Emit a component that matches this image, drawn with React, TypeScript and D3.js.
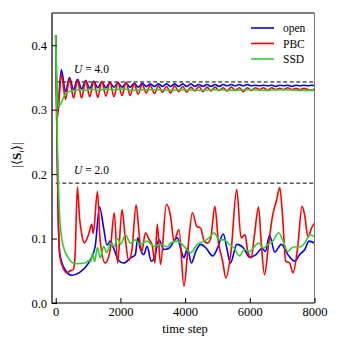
import { useEffect, useRef } from 'react'
import * as d3 from 'd3'

// tick labels and reference levels
const xTicks = [0, 2000, 4000, 6000, 8000]
const yTicks = [0, 0.1, 0.2, 0.3, 0.4]
const refLevels = [0.343, 0.186]
const refLabels = ['4.0', '2.0']

const seriesNames = ['open', 'PBC', 'SSD']
const seriesColors = ['#0000ff', '#ff0000', '#33cc33']

// U = 4.0 runs
const u4Time = [
  0, 50, 175, 300, 425, 550, 675, 800, 925, 1050, 1175, 1300, 1425, 1550, 1675, 1800, 1925, 2050,
  2175, 2300, 2425, 2550, 2675, 2800, 2925, 3050, 3175, 3300, 3425, 3550, 3675, 3800, 3925, 4050,
  4175, 4300, 4425, 4550, 4675, 4800, 4925, 5050, 5175, 5300, 5425, 5550, 5675, 5800, 5925, 6050,
  6175, 6300, 6425, 6550, 6675, 6800, 6925, 7050, 7175, 7300, 7425, 7550, 7675, 7800, 7925, 8000,
]
const openU4 = [
  0.416, 0.3, 0.362, 0.328, 0.35, 0.331, 0.347, 0.332, 0.345, 0.333,
  0.344, 0.334, 0.343, 0.334, 0.342, 0.335, 0.342, 0.335, 0.341, 0.335,
  0.341, 0.335, 0.341, 0.336, 0.34, 0.336, 0.34, 0.336, 0.34, 0.336,
  0.34, 0.336, 0.34, 0.336, 0.34, 0.336, 0.339, 0.336, 0.339, 0.336,
  0.339, 0.336, 0.339, 0.337, 0.339, 0.337, 0.339, 0.337, 0.339, 0.337,
  0.338, 0.337, 0.338, 0.337, 0.338, 0.336, 0.338, 0.337, 0.338, 0.336,
  0.338, 0.337, 0.338, 0.337, 0.338, 0.337,
]
const pbcU4 = [
  0.416, 0.287, 0.355, 0.316, 0.348, 0.318, 0.346, 0.318, 0.345, 0.32,
  0.344, 0.319, 0.344, 0.321, 0.343, 0.32, 0.342, 0.322, 0.343, 0.322,
  0.34, 0.324, 0.339, 0.326, 0.338, 0.325, 0.337, 0.327, 0.336, 0.326,
  0.337, 0.328, 0.336, 0.327, 0.335, 0.329, 0.336, 0.328, 0.335, 0.329,
  0.335, 0.33, 0.334, 0.329, 0.335, 0.33, 0.334, 0.328, 0.334, 0.33,
  0.334, 0.331, 0.334, 0.33, 0.334, 0.331, 0.333, 0.331, 0.334, 0.331,
  0.333, 0.331, 0.333, 0.331, 0.33, 0.333,
]
const ssdU4Time = [
  0, 40, 100, 160, 250, 350, 500, 700, 900, 1100, 1300, 1500, 1800, 2100, 2400, 2800, 3200, 3600,
  4000, 4500, 5000, 5500, 6000, 6500, 7000, 7500, 8000,
]
const ssdU4 = [
  0.416, 0.34, 0.305, 0.31, 0.32, 0.327, 0.329, 0.331, 0.33, 0.332, 0.33, 0.332, 0.331, 0.332,
  0.33, 0.331, 0.331, 0.33, 0.331, 0.33, 0.331, 0.33, 0.331, 0.33, 0.331, 0.33, 0.33,
]

// U = 2.0 runs
const openU2Time = [
  0, 40, 80, 130, 285, 495, 753, 1012, 1220, 1355, 1480, 1583, 1690, 1790, 1945, 2100, 2310, 2460,
  2535, 2610, 2720, 2825, 2950, 3050, 3190, 3345, 3500, 3760, 3860, 3965, 4070, 4195, 4330, 4480,
  4650, 4850, 5000, 5180, 5290, 5400, 5600, 5810, 5990, 6190, 6380, 6480, 6610, 6770, 6975, 7180,
  7390, 7540, 7700, 7830, 8000,
]
const openU2 = [
  0.416, 0.25, 0.13, 0.075, 0.052, 0.043, 0.048, 0.062, 0.088, 0.149, 0.117, 0.09, 0.096, 0.085,
  0.066, 0.062, 0.07, 0.075, 0.101, 0.085, 0.075, 0.088, 0.065, 0.07, 0.098, 0.083, 0.085, 0.101,
  0.085, 0.07, 0.085, 0.062, 0.08, 0.091, 0.085, 0.073, 0.085, 0.107, 0.085, 0.062, 0.091, 0.085,
  0.071, 0.075, 0.085, 0.08, 0.105, 0.079, 0.091, 0.075, 0.065, 0.075, 0.083, 0.096, 0.093,
]
const pbcU2Time = [
  0, 40, 80, 130, 200, 340, 450, 545, 600, 670, 740, 805, 888, 1012, 1115, 1160, 1290, 1375, 1530,
  1686, 1810, 1913, 2050, 2150, 2255, 2360, 2485, 2600, 2660, 2775, 2880, 2985, 3065, 3140, 3240,
  3420, 3550, 3655, 3810, 3965, 4090, 4225, 4360, 4480, 4590, 4695, 4790, 4920, 5025, 5160, 5260,
  5420, 5595, 5730, 5855, 5935, 6040, 6145, 6270, 6350, 6455, 6580, 6710, 6820, 6925, 7010, 7110,
  7230, 7335, 7480, 7615, 7700, 7800, 7905, 8000,
]
const pbcU2 = [
  0.416, 0.25, 0.13, 0.072, 0.058, 0.047, 0.05, 0.052, 0.075, 0.18, 0.13, 0.106, 0.093, 0.106,
  0.122, 0.108, 0.173, 0.096, 0.062, 0.083, 0.14, 0.062, 0.145, 0.1, 0.066, 0.084, 0.152, 0.096,
  0.08, 0.109, 0.099, 0.089, 0.062, 0.122, 0.06, 0.153, 0.135, 0.096, 0.114, 0.026, 0.086, 0.14,
  0.119, 0.116, 0.096, 0.093, 0.1, 0.15, 0.096, 0.065, 0.039, 0.08, 0.176, 0.101, 0.106, 0.08,
  0.07, 0.106, 0.149, 0.096, 0.044, 0.091, 0.137, 0.158, 0.179, 0.137, 0.065, 0.062, 0.047, 0.086,
  0.15, 0.135, 0.102, 0.116, 0.124,
]
const ssdU2Time = [
  0, 50, 100, 130, 235, 390, 600, 910, 1030, 1080, 1140, 1200, 1290, 1380, 1480, 1580, 1690, 1800,
  1915, 2015, 2150, 2310, 2460, 2610, 2825, 3035, 3240, 3450, 3550, 3760, 3965, 4170, 4380, 4590,
  4740, 4900, 5050, 5200, 5370, 5520, 5680, 5835, 5990, 6150, 6270, 6420, 6560, 6710, 6890, 7030,
  7170, 7340, 7540, 7700, 7855, 8000,
]
const ssdU2 = [
  0.416, 0.25, 0.16, 0.127, 0.088, 0.07, 0.061, 0.062, 0.066, 0.064, 0.078, 0.064, 0.086, 0.07,
  0.088, 0.078, 0.093, 0.088, 0.1, 0.091, 0.106, 0.093, 0.098, 0.091, 0.096, 0.088, 0.091, 0.087,
  0.093, 0.096, 0.088, 0.078, 0.091, 0.096, 0.101, 0.109, 0.098, 0.098, 0.091, 0.085, 0.073, 0.083,
  0.08, 0.088, 0.093, 0.085, 0.091, 0.096, 0.109, 0.096, 0.08, 0.087, 0.087, 0.093, 0.106, 0.103,
]

const runs = [
  [[u4Time, openU4], [openU2Time, openU2]],
  [[u4Time, pbcU4], [pbcU2Time, pbcU2]],
  [[ssdU4Time, ssdU4], [ssdU2Time, ssdU2]],
]

function App() {
  const ref = useRef<SVGSVGElement>(null)

  useEffect(() => {
    const width = 340,
      height = 350,
      left = 52,
      right = 314.5,
      top = 13,
      bottom = 303
    const font = '"Liberation Serif", "DejaVu Serif", serif'

    const x = d3.scaleLinear().domain([-115, 8000]).range([left, right])
    const y = d3.scaleLinear().domain([0, 0.45]).range([bottom, top])

    const svg = d3.select(ref.current)
    svg.selectAll('*').remove()
    svg.attr('width', width).attr('height', height)

    // reference levels
    refLevels.forEach((v, i) => {
      svg
        .append('line')
        .attr('x1', x(0))
        .attr('x2', right)
        .attr('y1', y(v))
        .attr('y2', y(v))
        .attr('stroke', '#000')
        .attr('stroke-width', 1)
        .attr('stroke-dasharray', '4,2.5')
      const t = svg
        .append('text')
        .attr('x', 74)
        .attr('y', y(v) - 9)
        .attr('font-family', font)
        .attr('font-size', 11.5)
      t.append('tspan').attr('font-style', 'italic').text('U')
      t.append('tspan').text(' = ' + refLabels[i])
    })

    const line = d3
      .line<[number, number]>()
      .x((d) => x(d[0]))
      .y((d) => y(d[1]))
      .curve(d3.curveMonotoneX)

    const plot = svg.append('g')
    runs.forEach((pair, i) => {
      pair.forEach(([ts, vs]) => {
        const pts = ts.map((t, k) => [t, vs[k]] as [number, number])
        plot
          .append('path')
          .attr('d', line(pts))
          .attr('fill', 'none')
          .attr('stroke', seriesColors[i])
          .attr('stroke-width', 1.6)
          .attr('stroke-linejoin', 'round')
      })
    })

    // frame
    svg
      .append('path')
      .attr('d', `M${left},${top}H${right}`)
      .attr('stroke', '#000')
      .attr('stroke-width', 1)
    svg
      .append('path')
      .attr('d', `M${right},${top}V${bottom}`)
      .attr('stroke', '#777')
      .attr('stroke-width', 1)
    svg
      .append('path')
      .attr('d', `M${left},${top}V${bottom}H${right}`)
      .attr('fill', 'none')
      .attr('stroke', '#000')
      .attr('stroke-width', 1.2)

    // axes with inward ticks
    const xAxis = d3
      .axisBottom(x)
      .tickValues(xTicks)
      .tickSize(-5)
      .tickPadding(4)
      .tickFormat((d) => String(d))
    const xMinor = d3
      .axisBottom(x)
      .tickValues(d3.range(0, 8001, 250))
      .tickSize(-2.5)
      .tickFormat(() => '')
    const yAxis = d3
      .axisLeft(y)
      .tickValues(yTicks)
      .tickSize(-5)
      .tickPadding(5)
      .tickFormat(d3.format('.1f'))
    const yMinor = d3
      .axisLeft(y)
      .tickValues(d3.range(0, 0.451, 0.025))
      .tickSize(-2.5)
      .tickFormat(() => '')

    const gx = svg.append('g').attr('transform', `translate(0,${bottom})`)
    gx.call(xMinor)
    gx.call(xAxis)
    const gy = svg.append('g').attr('transform', `translate(${left},0)`)
    gy.call(yMinor)
    gy.call(yAxis)
    svg.selectAll('.domain').remove()
    svg
      .selectAll('.tick text')
      .attr('font-family', font)
      .attr('font-size', 12.5)
      .attr('fill', '#000')
    svg.selectAll('.tick line').attr('stroke', '#000')

    // axis titles
    svg
      .append('text')
      .attr('x', x(4000))
      .attr('y', 333)
      .attr('text-anchor', 'middle')
      .attr('font-family', font)
      .attr('font-size', 12.5)
      .text('time step')

    const yl = svg
      .append('text')
      .attr('transform', 'translate(21,155) rotate(-90)')
      .attr('text-anchor', 'middle')
      .attr('font-family', font)
      .attr('font-size', 13)
    yl.append('tspan').text('|⟨')
    yl.append('tspan').attr('font-weight', 'bold').text('S')
    yl.append('tspan').attr('font-style', 'italic').attr('font-size', 9).attr('dy', 3).text('i')
    yl.append('tspan').attr('dy', -3).text('⟩|')

    // legend
    const legY = [28, 43.5, 59]
    seriesNames.forEach((name, i) => {
      svg
        .append('line')
        .attr('x1', 251)
        .attr('x2', 274)
        .attr('y1', legY[i])
        .attr('y2', legY[i])
        .attr('stroke', seriesColors[i])
        .attr('stroke-width', 1.6)
      svg
        .append('text')
        .attr('x', 283)
        .attr('y', legY[i] + 4)
        .attr('font-family', font)
        .attr('font-size', 11.5)
        .text(name)
    })
  })

  return <svg ref={ref} style={{ position: 'absolute', left: 0, top: 0 }}></svg>
}

export default App
